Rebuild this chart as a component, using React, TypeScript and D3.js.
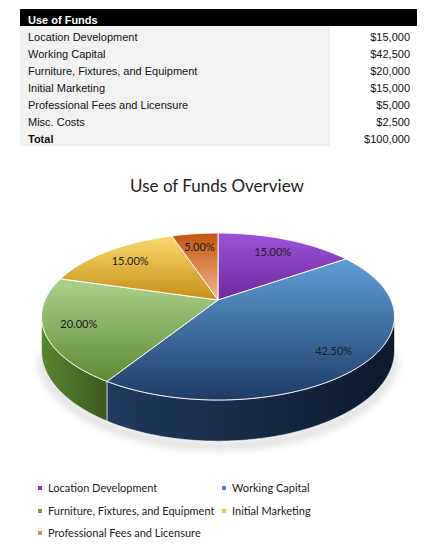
import * as d3 from "d3";

// table data
const tableItems = [
  "Location Development",
  "Working Capital",
  "Furniture, Fixtures, and Equipment",
  "Initial Marketing",
  "Professional Fees and Licensure",
  "Misc. Costs",
];
const tableAmounts = [15000, 42500, 20000, 15000, 5000, 2500];

// pie data (percent labels as shown on the chart)
const pieCategories = [
  "Location Development",
  "Working Capital",
  "Furniture, Fixtures, and Equipment",
  "Initial Marketing",
  "Professional Fees and Licensure",
];
const pieShares = [15, 42.5, 20, 15, 5];

const legendColors = ["#7a3bb0", "#4f81bd", "#77a043", "#f0c040", "#e58a5a"];
const topColors = [
  ["#9c52d8", "#6c2a9c"],
  ["#5f9ed8", "#1d3c64"],
  ["#acd28e", "#5c8a34"],
  ["#f9d96e", "#c68f18"],
  ["#c2550e", "#f5b791"],
];
const sideColors = [
  ["#5a2485", "#3e1860"],
  ["#1f3a5e", "#0d1a2d"],
  ["#5a8732", "#3a591f"],
  ["#b07f12", "#8a620c"],
  ["#b45a2a", "#8a3f18"],
];

const width = 429;
const height = 550;

// perspective pie geometry
const cx = 218;
const cy = 300;
const rx = 173;
const ry = 80.2;
const persp = 0.198;
const depth = 33;

function proj(a: number, r: number, dz: number): [number, number] {
  const w = 1 + persp * Math.cos(a);
  return [cx + (rx * r * Math.sin(a)) / w, cy - (ry * r * Math.cos(a)) / w + dz / w];
}

function arcPoints(a0: number, a1: number, r: number, dz: number) {
  const n = Math.max(2, Math.ceil(((a1 - a0) * 180) / Math.PI));
  return d3.range(n + 1).map((i) => proj(a0 + ((a1 - a0) * i) / n, r, dz));
}

export default function App() {
  const line = d3.line();
  const total = d3.sum(tableAmounts);
  const fmt = d3.format("$,");

  const arcs = d3.pie<number>().sort(null).value((d) => d)(pieShares);

  const visStart = Math.acos(-persp);
  const visEnd = 2 * Math.PI - visStart;

  const rowY = d3
    .scalePoint<number>()
    .domain(d3.range(tableItems.length + 1))
    .range([41, 143]);

  const legendX = [40, 224];
  const legendY = [488, 511, 533];

  return (
    <svg
      width={width}
      height={height}
      style={{ position: "absolute", left: 0, top: 0 }}
    >
      <defs>
        {topColors.map((c, i) => (
          <linearGradient key={i} id={`top${i}`} x1="0" y1="0" x2="0" y2="1">
            <stop offset="0%" stopColor={c[0]} />
            <stop offset="100%" stopColor={c[1]} />
          </linearGradient>
        ))}
        {sideColors.map((c, i) => (
          <linearGradient key={i} id={`side${i}`} x1="0" y1="0" x2="1" y2="0">
            <stop offset="0%" stopColor={c[0]} />
            <stop offset="100%" stopColor={c[1]} />
          </linearGradient>
        ))}
        <filter id="blur" x="-20%" y="-50%" width="140%" height="200%">
          <feGaussianBlur stdDeviation="4" />
        </filter>
      </defs>

      {/* table */}
      <g fontFamily="'Liberation Sans', Arial, sans-serif" fontSize={11}>
        <rect x={20} y={9} width={397} height={17} fill="#000" />
        <text x={28} y={23.5} fill="#fff" fontWeight="bold">
          Use of Funds
        </text>
        <rect x={20} y={26} width={310} height={120} fill="#f2f2f2" />
        {tableItems.map((t, i) => (
          <g key={t}>
            <text x={28} y={rowY(i)} fill="#111">
              {t}
            </text>
            <text x={410} y={rowY(i)} textAnchor="end" fill="#111">
              {fmt(tableAmounts[i])}
            </text>
          </g>
        ))}
        <text x={28} y={rowY(tableItems.length)} fill="#111" fontWeight="bold">
          Total
        </text>
        <text x={410} y={rowY(tableItems.length)} textAnchor="end" fill="#111">
          {fmt(total)}
        </text>
      </g>

      {/* title */}
      <text
        x={217}
        y={192}
        textAnchor="middle"
        fontFamily="Lato, 'Open Sans', sans-serif"
        fontSize={17}
        fill="#222"
      >
        Use of Funds Overview
      </text>

      {/* shadow */}
      <path
        d={line(arcPoints(visStart, visEnd, 1.0, depth + 4)) || ""}
        fill="none"
        stroke="#000"
        strokeOpacity={0.18}
        strokeWidth={6}
        filter="url(#blur)"
      />

      {/* side walls */}
      {arcs.map((a, i) => {
        const s = Math.max(a.startAngle, visStart);
        const e = Math.min(a.endAngle, visEnd);
        if (s >= e) return null;
        const pts = [...arcPoints(s, e, 1, 0), ...arcPoints(s, e, 1, depth).reverse()];
        return (
          <path
            key={i}
            d={(line(pts) || "") + "Z"}
            fill={`url(#side${i})`}
            stroke="#fff"
            strokeWidth={0.7}
            strokeOpacity={0.8}
          />
        );
      })}

      {/* tops */}
      {arcs.map((a, i) => {
        const pts = [proj(0, 0, 0), ...arcPoints(a.startAngle, a.endAngle, 1, 0)];
        return (
          <path
            key={i}
            d={(line(pts) || "") + "Z"}
            fill={`url(#top${i})`}
            stroke="#fff"
            strokeWidth={0.9}
            strokeLinejoin="round"
          />
        );
      })}

      {/* labels */}
      {arcs.map((a, i) => {
        const [x, y] = proj((a.startAngle + a.endAngle) / 2, 0.8, 0);
        return (
          <text
            key={i}
            x={x}
            y={y}
            dy="0.35em"
            textAnchor="middle"
            fontFamily="Lato, 'Open Sans', sans-serif"
            fontSize={11}
            fill="#1a1a1a"
          >
            {pieShares[i].toFixed(2)}%
          </text>
        );
      })}

      {/* legend */}
      <g fontFamily="Lato, 'Open Sans', sans-serif" fontSize={11} fill="#222">
        {pieCategories.map((c, i) => {
          const x = legendX[i % 2];
          const y = legendY[Math.floor(i / 2)];
          return (
            <g key={c}>
              <rect x={x - 2} y={y - 2} width={4} height={4} fill={legendColors[i]} />
              <text x={x + 8} y={y} dy="0.35em">
                {c}
              </text>
            </g>
          );
        })}
      </g>
    </svg>
  );
}
